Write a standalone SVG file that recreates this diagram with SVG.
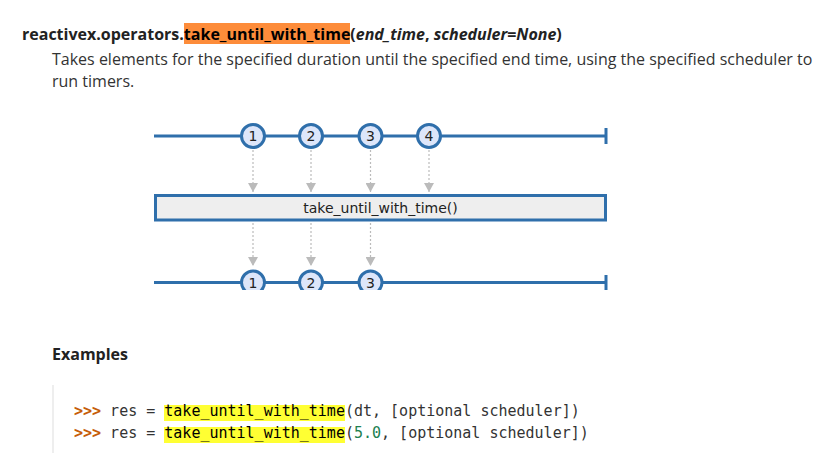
<svg xmlns="http://www.w3.org/2000/svg" width="830" height="453" viewBox="0 0 830 453">
<style>
.t{font-family:"Open Sans","Noto Sans",sans-serif;fill:#333;font-size:16px}
.b{font-weight:bold;fill:#222}
.i{font-style:italic;font-weight:bold}
.m{font-family:"DejaVu Sans Mono",monospace;font-size:15px;fill:#333}
.tl{stroke:#2f6fab;stroke-width:3;fill:none}
.ev{fill:#dde6fa;stroke:#2f6fab;stroke-width:3}
.n{font-family:"DejaVu Sans",sans-serif;font-size:14px;fill:#222;text-anchor:middle}
.dot{stroke:#bbb;stroke-width:1.2;stroke-dasharray:2,2;fill:none}
</style>
<defs>
<marker id="ah" viewBox="0 0 9 10" refX="9" refY="5" markerWidth="9" markerHeight="10" markerUnits="userSpaceOnUse" orient="auto">
<path d="M0,0 L9,5 L0,10 Z" fill="#bbb"/>
</marker>
<clipPath id="clip"><rect x="0" y="0" width="830" height="290"/></clipPath>
</defs>
<rect width="830" height="453" fill="#fff"/>
<g id="header">
<rect x="184" y="23" width="166" height="21" fill="#fd8c3a"/>
<text class="t b" x="22" y="40">reactivex.operators.<tspan fill="#000">take_until_with_time</tspan><tspan>(</tspan><tspan class="i">end_time</tspan><tspan>, </tspan><tspan class="i">scheduler</tspan><tspan>=</tspan><tspan class="i">None</tspan><tspan>)</tspan></text>
<text class="t" x="52" y="65">Takes elements for the specified duration until the specified end time, using the specified scheduler to</text>
<text class="t" x="52" y="87">run timers.</text>
</g>
<g id="diagram" clip-path="url(#clip)">
<g id="connectors">
<line class="dot" x1="253" y1="150" x2="253" y2="192" marker-end="url(#ah)"/>
<line class="dot" x1="311" y1="150" x2="311" y2="192" marker-end="url(#ah)"/>
<line class="dot" x1="370.5" y1="150" x2="370.5" y2="192" marker-end="url(#ah)"/>
<line class="dot" x1="429" y1="150" x2="429" y2="192" marker-end="url(#ah)"/>
<line class="dot" x1="253" y1="223" x2="253" y2="266" marker-end="url(#ah)"/>
<line class="dot" x1="311" y1="223" x2="311" y2="266" marker-end="url(#ah)"/>
<line class="dot" x1="370.5" y1="223" x2="370.5" y2="266" marker-end="url(#ah)"/>
</g>
<g id="source">
<line class="tl" x1="154" y1="136" x2="606" y2="136"/>
<line class="tl" x1="606" y1="128" x2="606" y2="144" stroke-width="2.5"/>
<circle class="ev" cx="253" cy="136" r="11.5"/><text class="n" x="253" y="141">1</text>
<circle class="ev" cx="311" cy="136" r="11.5"/><text class="n" x="311" y="141">2</text>
<circle class="ev" cx="370.5" cy="136" r="11.5"/><text class="n" x="370.5" y="141">3</text>
<circle class="ev" cx="429" cy="136" r="11.5"/><text class="n" x="429" y="141">4</text>
</g>
<g id="operator">
<rect x="155.5" y="195.5" width="450" height="24.5" fill="#eee" stroke="#2f6fab" stroke-width="3"/>
<text class="n" x="380.5" y="213">take_until_with_time()</text>
</g>
<g id="result">
<line class="tl" x1="154" y1="282.5" x2="606" y2="282.5"/>
<line class="tl" x1="606" y1="275" x2="606" y2="292" stroke-width="2.5"/>
<circle class="ev" cx="253" cy="282.5" r="11.5"/><text class="n" x="253" y="287.5">1</text>
<circle class="ev" cx="311" cy="282.5" r="11.5"/><text class="n" x="311" y="287.5">2</text>
<circle class="ev" cx="370.5" cy="282.5" r="11.5"/><text class="n" x="370.5" y="287.5">3</text>
</g>
</g>
<g id="examples">
<text class="t b" x="52" y="360">Examples</text>
<rect x="52" y="385" width="2" height="68" fill="#eee"/>
<rect x="164" y="405" width="181" height="16" fill="#ffff33"/>
<rect x="164" y="427" width="181" height="16" fill="#ffff33"/>
<text class="m" x="74" y="416"><tspan fill="#c65d09" font-weight="bold">&gt;&gt;&gt;</tspan> res = <tspan fill="#000">take_until_with_time</tspan>(dt, [optional scheduler])</text>
<text class="m" x="74" y="438"><tspan fill="#c65d09" font-weight="bold">&gt;&gt;&gt;</tspan> res = <tspan fill="#000">take_until_with_time</tspan>(<tspan fill="#208050">5.0</tspan>, [optional scheduler])</text>
</g>
</svg>
